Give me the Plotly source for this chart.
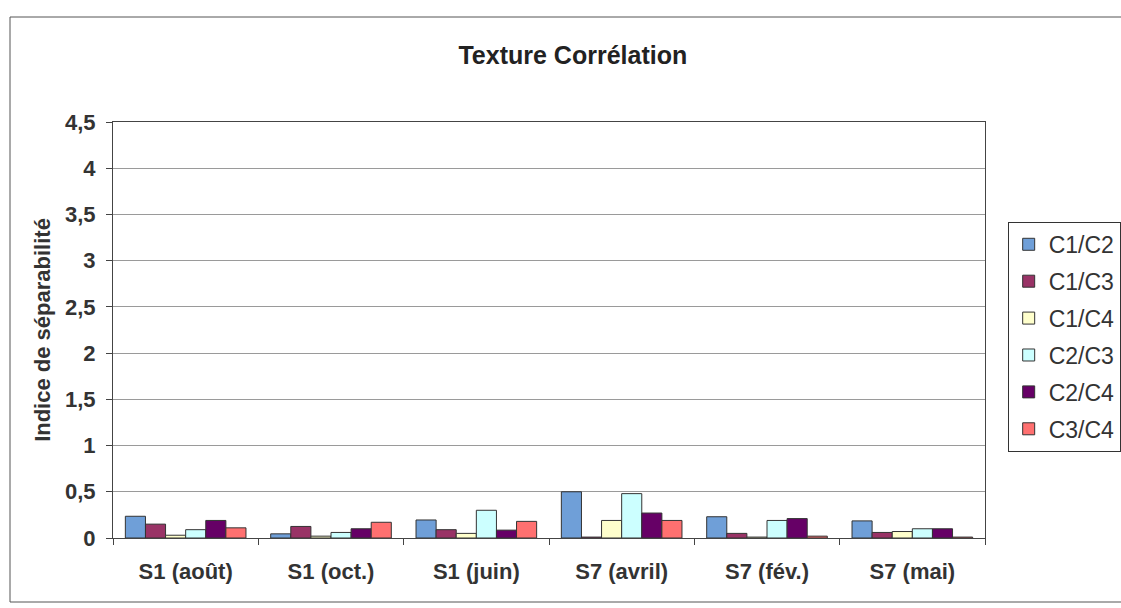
import plotly.graph_objects as go

# Acquisition dates (x categories)
dates = ["S1 (août)", "S1 (oct.)", "S1 (juin)", "S7 (avril)", "S7 (fév.)", "S7 (mai)"]

# Separability index for each class pair, one value per date
c1_c2 = [0.235, 0.045, 0.195, 0.50, 0.23, 0.185]
c1_c3 = [0.15, 0.125, 0.09, 0.01, 0.05, 0.06]
c1_c4 = [0.03, 0.02, 0.05, 0.19, 0.01, 0.07]
c2_c3 = [0.09, 0.06, 0.30, 0.48, 0.19, 0.10]
c2_c4 = [0.19, 0.10, 0.085, 0.27, 0.21, 0.10]
c3_c4 = [0.11, 0.17, 0.18, 0.19, 0.02, 0.01]

series = [
    ("C1/C2", c1_c2, "#6f9fd8"),
    ("C1/C3", c1_c3, "#993366"),
    ("C1/C4", c1_c4, "#ffffcc"),
    ("C2/C3", c2_c3, "#ccffff"),
    ("C2/C4", c2_c4, "#660066"),
    ("C3/C4", c3_c4, "#ff7070"),
]

FONT = "Arial, Liberation Sans, sans-serif"

fig = go.Figure()
for name, vals, color in series:
    fig.add_trace(go.Bar(
        name=name, x=dates, y=vals, legendgroup=name,
        marker=dict(color=color, line=dict(color="#333333", width=1)),
    ))

fig.update_layout(
    width=1121, height=608,
    margin=dict(l=113, r=136, t=122, b=70, autoexpand=False),
    paper_bgcolor="white", plot_bgcolor="white",
    barmode="group", bargap=0.17, bargroupgap=0,
    separators=", ",
    font=dict(family=FONT, color="#222222"),
    title=dict(text="<b>Texture Corrélation</b>", x=0.511, xanchor="center",
               y=1 - 55 / 608, yanchor="middle",
               font=dict(family=FONT, size=25, color="#222222")),
    legend=dict(x=1.026, xanchor="left", y=0.76, yanchor="top",
                bordercolor="#333333", borderwidth=1, bgcolor="white",
                font=dict(family=FONT, size=23, color="#333333"),
                tracegroupgap=4, itemwidth=30),
    showlegend=True,
)

fig.update_yaxes(
    range=[0, 4.5], dtick=0.5, tickformat=".1~f",
    showgrid=True, gridcolor="#9a9a9a", gridwidth=1,
    showline=True, linecolor="#444444", linewidth=1, mirror=True,
    ticks="outside", ticklen=6, tickcolor="#444444", ticklabelstandoff=6,
    tickfont=dict(family=FONT, size=22, weight=700, color="#333333"),
    zeroline=False,
    title=dict(text="Indice de séparabilité", standoff=8,
               font=dict(family=FONT, size=22, weight=700, color="#333333")),
)

fig.update_xaxes(
    showline=True, linecolor="#444444", linewidth=1, mirror=True,
    ticks="outside", ticklen=6, tickcolor="#444444", tickson="boundaries",
    ticklabelstandoff=14,
    tickfont=dict(family=FONT, size=22, weight=700, color="#333333"),
    showgrid=False,
)

# Outer chart frame (its right side runs past the page edge)
fig.add_shape(type="rect", xref="paper", yref="paper",
              x0=(10 - 113) / 872, x1=(1135 - 113) / 872,
              y0=(538 - 602) / 416, y1=(538 - 17) / 416,
              line=dict(color="#555555", width=1), fillcolor="rgba(0,0,0,0)")

fig.write_html("out.html")
